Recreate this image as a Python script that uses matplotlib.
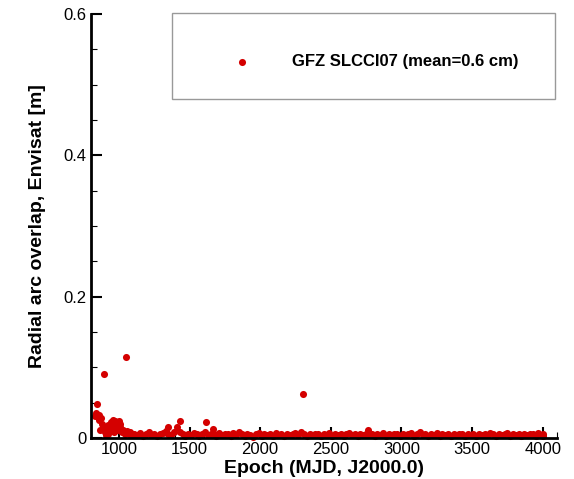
import matplotlib.pyplot as plt
from matplotlib.patches import Rectangle
from matplotlib.ticker import MultipleLocator, FuncFormatter

plt.rcParams['font.family'] = ['Liberation Sans', 'DejaVu Sans']

# radial orbit differences in arc overlaps (m) vs. epoch (MJD, J2000.0)
early_epoch = [832, 838, 844, 850, 856, 862, 868, 874, 880, 886,
               894, 900, 908, 914, 920, 926, 932, 938, 944, 950,
               956, 962, 968, 974, 980, 986, 992, 998, 1004, 1010,
               1016, 1022, 1030, 1038, 1046, 1050, 1056, 1064, 1072, 1080,
               1090, 1100]
early_value = [0.031, 0.035, 0.048, 0.030, 0.026, 0.033, 0.011, 0.028, 0.020, 0.015,
               0.091, 0.008, 0.004, 0.012, 0.006, 0.018, 0.010, 0.014, 0.022, 0.020,
               0.025, 0.016, 0.009, 0.024, 0.021, 0.012, 0.018, 0.024, 0.015, 0.020,
               0.010, 0.008, 0.012, 0.009, 0.006, 0.115, 0.010, 0.007, 0.005, 0.008,
               0.004, 0.006]

late_epoch = [1110, 1130, 1150, 1170, 1190, 1210, 1230, 1250, 1270, 1290,
              1310, 1330, 1345, 1350, 1370, 1390, 1410, 1430, 1432, 1450,
              1470, 1490, 1510, 1530, 1550, 1570, 1590, 1610, 1616, 1630,
              1650, 1665, 1670, 1690, 1710, 1730, 1750, 1770, 1790, 1810,
              1830, 1850, 1870, 1890, 1910, 1930, 1950, 1970, 1990, 2010,
              2030, 2050, 2070, 2090, 2110, 2130, 2150, 2170, 2190, 2210,
              2230, 2250, 2270, 2290, 2302, 2310, 2330, 2350, 2370, 2390,
              2410, 2430, 2450, 2470, 2490, 2510, 2530, 2550, 2570, 2590,
              2610, 2630, 2650, 2670, 2690, 2710, 2730, 2750, 2762, 2770,
              2790, 2810, 2830, 2850, 2870, 2890, 2910, 2930, 2950, 2970,
              2990, 3010, 3030, 3050, 3070, 3090, 3110, 3130, 3150, 3170,
              3190, 3210, 3230, 3250, 3270, 3290, 3310, 3330, 3350, 3370,
              3390, 3410, 3430, 3450, 3470, 3490, 3510, 3530, 3550, 3570,
              3590, 3610, 3630, 3650, 3670, 3690, 3710, 3730, 3750, 3770,
              3790, 3810, 3830, 3850, 3870, 3890, 3910, 3930, 3950, 3970,
              3990, 4000, 4005]
late_value = [0.006, 0.004, 0.007, 0.003, 0.005, 0.008, 0.004, 0.006, 0.003, 0.005,
              0.007, 0.010, 0.016, 0.006, 0.004, 0.008, 0.015, 0.009, 0.024, 0.005,
              0.003, 0.006, 0.004, 0.007, 0.005, 0.003, 0.006, 0.008, 0.022, 0.004,
              0.006, 0.013, 0.005, 0.003, 0.007, 0.004, 0.005, 0.006, 0.003, 0.007,
              0.004, 0.008, 0.005, 0.003, 0.006, 0.004, 0.002, 0.005, 0.007, 0.003,
              0.005, 0.004, 0.006, 0.003, 0.007, 0.004, 0.005, 0.003, 0.006, 0.004,
              0.005, 0.007, 0.004, 0.008, 0.062, 0.005, 0.003, 0.006, 0.004, 0.005,
              0.006, 0.003, 0.005, 0.004, 0.007, 0.003, 0.005, 0.004, 0.006, 0.003,
              0.005, 0.007, 0.004, 0.006, 0.003, 0.005, 0.004, 0.006, 0.012, 0.004,
              0.005, 0.003, 0.006, 0.004, 0.007, 0.003, 0.005, 0.004, 0.006, 0.005,
              0.003, 0.006, 0.004, 0.005, 0.007, 0.003, 0.005, 0.008, 0.004, 0.006,
              0.003, 0.005, 0.004, 0.007, 0.003, 0.006, 0.004, 0.005, 0.003, 0.006,
              0.004, 0.005, 0.006, 0.003, 0.005, 0.004, 0.006, 0.003, 0.005, 0.004,
              0.006, 0.004, 0.007, 0.005, 0.003, 0.006, 0.004, 0.005, 0.007, 0.003,
              0.005, 0.004, 0.006, 0.003, 0.005, 0.004, 0.006, 0.005, 0.003, 0.007,
              0.004, 0.006, 0.003]

epoch = early_epoch + late_epoch
overlap = early_value + late_value
series_label = "GFZ SLCCI07 (mean=0.6 cm)"

fig = plt.figure(figsize=(5.74, 4.79), dpi=100)
ax = fig.add_axes([0.1585, 0.0856, 0.8115, 0.8852])

ax.scatter(epoch, overlap, s=26, color='#d40000', linewidths=0,
           zorder=2, label=series_label, clip_on=False)

ax.set_xlim(802, 4100)
ax.set_ylim(0, 0.6)

for side in ('top', 'right'):
    ax.spines[side].set_visible(False)
for side in ('left', 'bottom'):
    ax.spines[side].set_linewidth(2)
    ax.spines[side].set_zorder(3)

ax.xaxis.set_major_locator(MultipleLocator(500))
ax.xaxis.set_minor_locator(MultipleLocator(100))
ax.yaxis.set_major_locator(MultipleLocator(0.2))
ax.yaxis.set_minor_locator(MultipleLocator(0.05))
ax.yaxis.set_major_formatter(FuncFormatter(lambda v, p: "0" if v == 0 else f"{v:.1f}"))
ax.tick_params(which='major', direction='in', length=8, width=1.5, labelsize=12,
               top=False, right=False, pad=3)
ax.tick_params(which='minor', direction='in', length=4, width=0.8,
               top=False, right=False)

ax.set_xlabel("Epoch (MJD, J2000.0)", fontsize=14, fontweight='bold', labelpad=2)
ax.set_ylabel("Radial arc overlap, Envisat [m]", fontsize=14, fontweight='bold', labelpad=13)

# legend box
ax.add_patch(Rectangle((0.174, 0.800), 0.822, 0.202, transform=ax.transAxes,
                       facecolor='white', edgecolor='#999999', linewidth=1,
                       clip_on=False, zorder=4))
leg = ax.legend(loc='center left', bbox_to_anchor=(0.275, 0.888), frameon=False,
                markerscale=1.0, handlelength=1.0, handletextpad=2.5,
                prop={'weight': 'bold', 'size': 12})
leg.set_zorder(5)

fig.savefig("out.png", dpi=100)
